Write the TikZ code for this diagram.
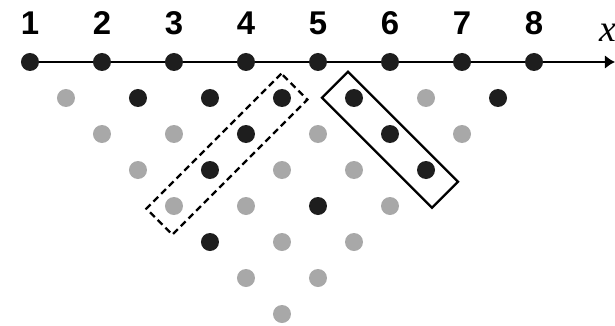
\documentclass[tikz,border=0pt]{standalone}
\usepackage{fontspec}
\setmainfont{Liberation Sans}
\newfontfamily\serifit{Liberation Serif}
\usetikzlibrary{arrows.meta}
\definecolor{dark}{HTML}{1E1E1E}
\definecolor{light}{HTML}{A8A8A8}
\tikzset{
  dot/.style={circle, fill=#1, inner sep=0pt, minimum size=0.5cm},
  group/.style={draw, line width=1.8pt, inner sep=0pt, minimum height=1.02cm},
}
\begin{document}
\begin{tikzpicture}[x=1cm, y=1cm, font=\bfseries\fontsize{26}{28}\selectfont]
  \useasboundingbox (-0.833,-7.333) rectangle (16.25,1.722);
  % 数直線
  \coordinate (o) at (0,0);
  \coordinate (xend) at (16.25,0);
  \draw[line width=1.9pt, -{Latex[length=8pt, width=11pt]}] (o) -- (xend);
  \node[font=\serifit\itshape\fontsize{30}{32}\selectfont] (xlab) at (16.05,0.8) {x};
  % 整数点とラベル
  \foreach \k in {1,...,8} {
    \node[dot=dark] (p\k) at ({2*(\k-1)},0) {};
    \node (l\k) at ({2*(\k-1)},1.07) {\k};
  }
  % 下の三角形の点 (行ごとの色)
  \foreach \j/\cols in {1/{light,dark,dark,dark,dark,light,dark},
                        2/{light,light,dark,light,dark,light},
                        3/{light,dark,light,light,dark},
                        4/{light,light,dark,light},
                        5/{dark,light,light},
                        6/{light,light},
                        7/{light}} {
    \foreach \c [count=\m from 0] in \cols
      \node[dot=\c] (d\j-\m) at ({\j+2*\m},-\j) {};
  }
  % 斜めの囲み
  \node[group, dash pattern=on 5.3pt off 3.3pt, rotate=45, minimum width=5.3cm] (dbox) at (5.47,-2.56) {};
  \node[group, rotate=-45, minimum width=4.32cm] (sbox) at (10,-2.16) {};
\end{tikzpicture}
\end{document}
